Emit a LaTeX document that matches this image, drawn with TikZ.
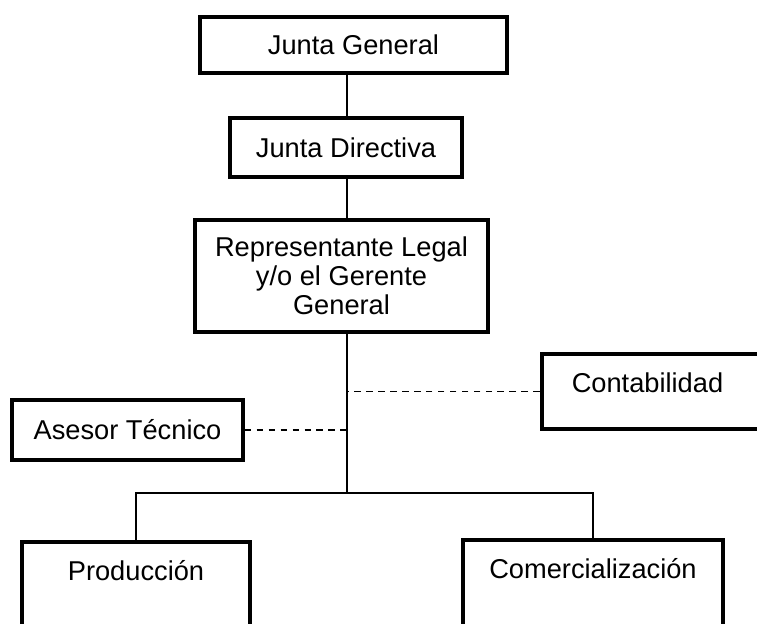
\documentclass[tikz,border=0pt]{standalone}
\usepackage{fontspec}
\setmainfont{Liberation Sans}
\usetikzlibrary{positioning}

\begin{document}
\begin{tikzpicture}[
	cargo/.style = {draw, line width=2pt, inner sep=0pt, align=center, font=\fontsize{15.5}{16.5}\selectfont},
	abierto/.style = {cargo, text height=.78cm, inner ysep=0pt},
	linea/.style = {line width=.8pt},
	asesoria/.style = {line width=.8pt, dash pattern=on 3.8pt off 3pt}]
	\useasboundingbox (0,0) rectangle (15.14,12.48);
	\coordinate (spine) at (6.94,2.62);
	\node [cargo, minimum width=6.14cm, minimum height=1.12cm] (jg) at (7.07,11.58) {Junta General};
	\node [cargo, minimum width=4.64cm, minimum height=1.18cm] (jd) at (6.92,9.53) {Junta Directiva};
	\node [cargo, minimum width=5.86cm, minimum height=2.24cm] (rl) at (6.83,6.96) {Representante Legal\\y/o el Gerente\\General};
	\node [abierto, anchor=north west, text depth=.72cm, inner xsep=.6cm, text width=3.5cm, align=left] (cont) at (10.8,5.44) {Contabilidad};
	\node [cargo, minimum width=4.62cm, minimum height=1.2cm] (ases) at (2.55,3.88) {Asesor Técnico};
	\node [abierto, anchor=north, text depth=1.4cm, minimum width=4.56cm] (prod) at (2.72,1.68) {Producción};
	\node [abierto, anchor=north, text depth=1.4cm, minimum width=5.2cm] (com) at (11.86,1.72) {Comercialización};
	\draw [linea] (jg.south -| spine) -- (jd.north -| spine);
	\draw [linea] (jd.south -| spine) -- (rl.north -| spine);
	\draw [linea] (rl.south -| spine) -- (spine);
	\draw [linea] (prod.north) |- (spine) -| (com.north);
	\draw [asesoria] (cont.west) -- (cont.west -| spine);
	\draw [asesoria] (ases.east) -- (ases.east -| spine);
\end{tikzpicture}
\end{document}
